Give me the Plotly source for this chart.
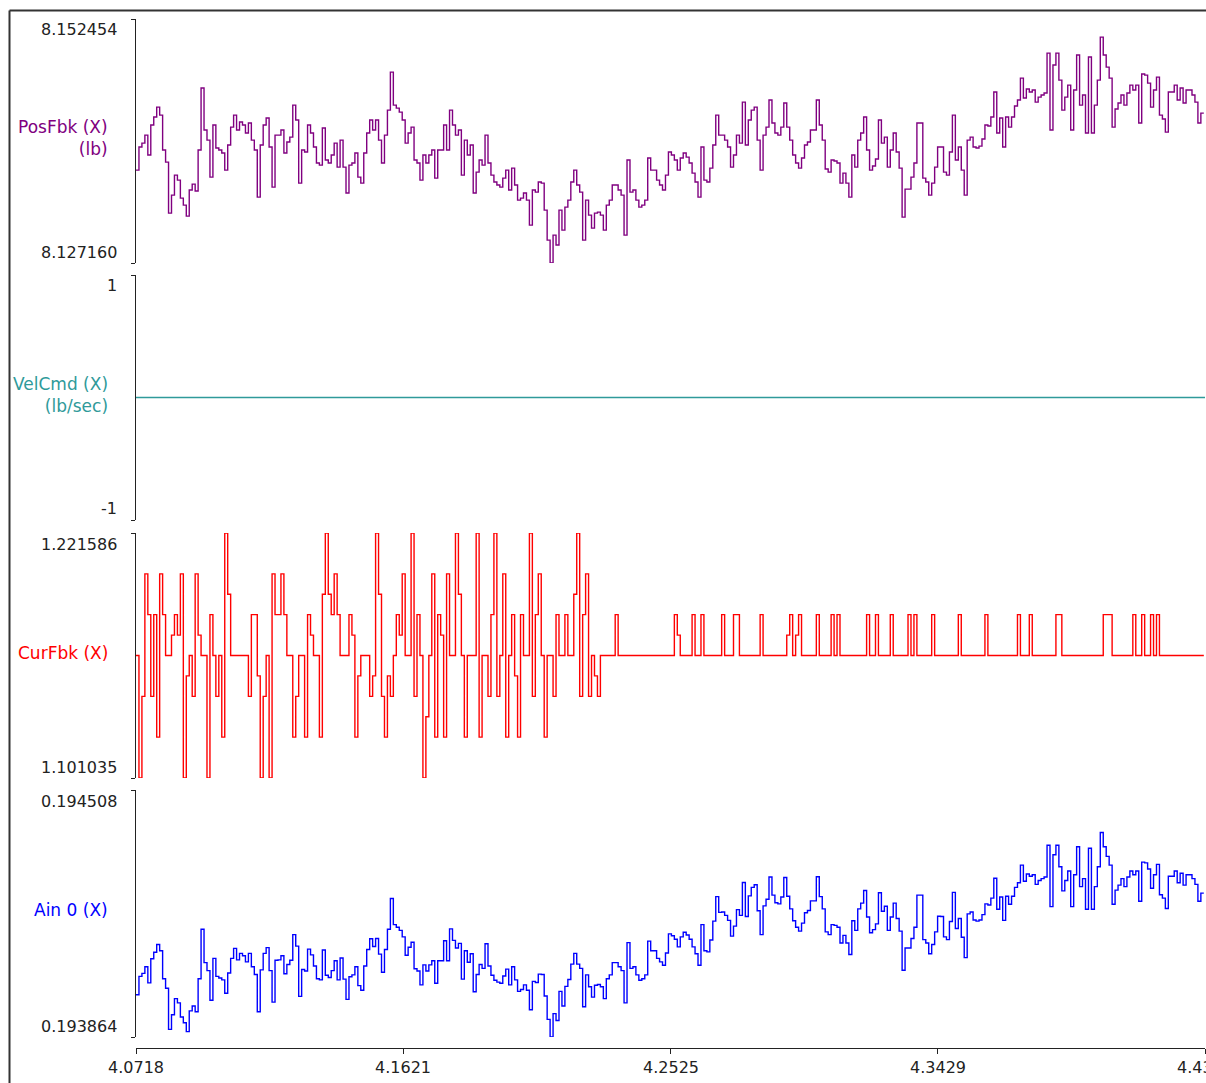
import plotly.graph_objects as go

# ---------------- data ----------------
t_start = 4.0718
sample_period = 0.001
x_range = [4.0718, 4.4332]
x_ticks = [4.0718, 4.1621, 4.2525, 4.3429, 4.4332]
x_tick_text = ["4.0718", "4.1621", "4.2525", "4.3429", "4.4332"]

posfbk = [
8.13679, 8.13918, 8.13959, 8.14042, 8.13835, 8.14146, 8.14229, 8.14332, 8.14249, 8.13887,
8.13762, 8.13233, 8.13420, 8.13627, 8.13575, 8.13389, 8.13316, 8.13202, 8.13472, 8.13534,
8.13462, 8.13887, 8.14530, 8.14094, 8.13990, 8.13606, 8.14146, 8.13908, 8.13887, 8.13856,
8.13679, 8.13939, 8.14125, 8.14249, 8.14094, 8.14177, 8.14146, 8.14063, 8.14167, 8.13990,
8.13887, 8.13399, 8.13939, 8.14146, 8.14219, 8.13918, 8.13503, 8.14042, 8.14042, 8.14094,
8.13856, 8.13970, 8.14021, 8.14353, 8.14198, 8.13544, 8.13887, 8.13866, 8.14146, 8.14063,
8.13918, 8.13752, 8.13731, 8.14115, 8.13783, 8.13752, 8.13835, 8.13959, 8.13710, 8.13990,
8.13710, 8.13441, 8.13731, 8.13752, 8.13856, 8.13606, 8.13544, 8.13856, 8.14063, 8.14198,
8.14094, 8.14198, 8.13990, 8.13752, 8.14042, 8.14301, 8.14695, 8.14353, 8.14322, 8.14280,
8.14198, 8.13959, 8.14063, 8.14125, 8.13783, 8.13752, 8.13575, 8.13835, 8.13752, 8.13835,
8.13887, 8.13596, 8.13887, 8.13887, 8.14146, 8.13887, 8.14301, 8.14146, 8.14042, 8.14094,
8.13627, 8.13990, 8.13835, 8.13939, 8.13441, 8.13658, 8.13783, 8.13731, 8.14042, 8.13752,
8.13627, 8.13555, 8.13524, 8.13503, 8.13596, 8.13679, 8.13472, 8.13700, 8.13524, 8.13368,
8.13389, 8.13441, 8.13368, 8.13109, 8.13472, 8.13451, 8.13555, 8.13544, 8.13264, 8.12953,
8.12716, 8.13005, 8.12902, 8.13264, 8.13057, 8.13295, 8.13368, 8.13555, 8.13679, 8.13524,
8.13451, 8.12953, 8.13368, 8.13212, 8.13078, 8.13233, 8.13243, 8.13212, 8.13057, 8.13316,
8.13368, 8.13524, 8.13524, 8.13472, 8.13420, 8.13005, 8.13783, 8.13451, 8.13472, 8.13368,
8.13295, 8.13316, 8.13368, 8.13804, 8.13679, 8.13679, 8.13575, 8.13524, 8.13472, 8.13627,
8.13866, 8.13835, 8.13783, 8.13679, 8.13804, 8.13856, 8.13814, 8.13752, 8.13648, 8.13555,
8.13399, 8.13918, 8.13575, 8.13555, 8.13700, 8.13939, 8.14249, 8.14042, 8.14042, 8.13990,
8.13918, 8.13710, 8.13835, 8.14042, 8.13959, 8.14384, 8.13939, 8.14198, 8.14301, 8.14332,
8.13990, 8.13679, 8.14042, 8.14125, 8.14405, 8.14167, 8.14063, 8.14042, 8.14125, 8.14374,
8.14125, 8.13990, 8.13835, 8.13752, 8.13700, 8.13804, 8.13939, 8.13970, 8.14094, 8.14094,
8.14405, 8.14146, 8.13990, 8.13690, 8.13658, 8.13783, 8.13773, 8.13752, 8.13544, 8.13648,
8.13544, 8.13399, 8.13835, 8.13710, 8.13990, 8.14063, 8.14229, 8.13887, 8.13679, 8.13721,
8.13794, 8.14198, 8.13959, 8.14021, 8.13710, 8.13887, 8.14063, 8.13866, 8.13700, 8.13192,
8.13482, 8.13482, 8.13606, 8.13752, 8.14167, 8.14167, 8.13596, 8.13555, 8.13420, 8.13544,
8.13710, 8.13918, 8.13918, 8.13658, 8.13627, 8.13866, 8.14249, 8.13783, 8.13918, 8.13679,
8.13420, 8.13990, 8.14021, 8.13918, 8.13908, 8.13928, 8.14001, 8.14146, 8.14136, 8.14229,
8.14488, 8.14063, 8.14219, 8.13918, 8.14229, 8.14125, 8.14229, 8.14343, 8.14405, 8.14633,
8.14426, 8.14519, 8.14488, 8.14509, 8.14384, 8.14436, 8.14457, 8.14478, 8.14892, 8.14094,
8.14768, 8.14892, 8.14612, 8.14301, 8.14436, 8.14560, 8.14094, 8.14509, 8.14872, 8.14353,
8.14457, 8.14063, 8.14851, 8.14063, 8.14353, 8.14612, 8.15058, 8.14872, 8.14747, 8.14633,
8.14125, 8.14312, 8.14374, 8.14457, 8.14353, 8.14478, 8.14560, 8.14509, 8.14560, 8.14167,
8.14675, 8.14664, 8.14581, 8.14332, 8.14509, 8.14643, 8.14249, 8.14208, 8.14073, 8.14488,
8.14488, 8.14560, 8.14405, 8.14530, 8.14374, 8.14509, 8.14509, 8.14457, 8.14384, 8.14167,
8.14270, 8.14270,
]

velcmd_times = [4.0718, 4.4332]
velcmd = [0.0, 0.0]

curfbk = [
1.161311, 1.101035, 1.141219, 1.201494, 1.181402, 1.141219, 1.181402, 1.121127, 1.201494, 1.181402,
1.161311, 1.161311, 1.171357, 1.181402, 1.171357, 1.201494, 1.101035, 1.151265, 1.161311, 1.141219,
1.201494, 1.171357, 1.161311, 1.161311, 1.101035, 1.181402, 1.161311, 1.141219, 1.161311, 1.121127,
1.221586, 1.191448, 1.161311, 1.161311, 1.161311, 1.161311, 1.161311, 1.161311, 1.141219, 1.181402,
1.181402, 1.151265, 1.101035, 1.141219, 1.161311, 1.101035, 1.201494, 1.181402, 1.181402, 1.201494,
1.181402, 1.161311, 1.161311, 1.121127, 1.141219, 1.161311, 1.161311, 1.121127, 1.181402, 1.171357,
1.161311, 1.161311, 1.121127, 1.191448, 1.221586, 1.191448, 1.181402, 1.201494, 1.181402, 1.161311,
1.161311, 1.161311, 1.181402, 1.171357, 1.121127, 1.151265, 1.161311, 1.161311, 1.161311, 1.141219,
1.151265, 1.221586, 1.191448, 1.141219, 1.121127, 1.151265, 1.141219, 1.161311, 1.181402, 1.171357,
1.201494, 1.161311, 1.161311, 1.221586, 1.141219, 1.181402, 1.161311, 1.101035, 1.131173, 1.161311,
1.201494, 1.121127, 1.181402, 1.171357, 1.121127, 1.201494, 1.161311, 1.161311, 1.221586, 1.191448,
1.161311, 1.121127, 1.161311, 1.161311, 1.161311, 1.221586, 1.121127, 1.161311, 1.161311, 1.141219,
1.181402, 1.221586, 1.141219, 1.161311, 1.201494, 1.121127, 1.161311, 1.181402, 1.151265, 1.121127,
1.181402, 1.161311, 1.161311, 1.221586, 1.141219, 1.181402, 1.201494, 1.161311, 1.121127, 1.161311,
1.161311, 1.141219, 1.181402, 1.161311, 1.161311, 1.181402, 1.161311, 1.161311, 1.191448, 1.221586,
1.141219, 1.181402, 1.201494, 1.141219, 1.161311, 1.151265, 1.141219, 1.161311, 1.161311, 1.161311,
1.161311, 1.161311, 1.181402, 1.161311, 1.161311, 1.161311, 1.161311, 1.161311, 1.161311, 1.161311,
1.161311, 1.161311, 1.161311, 1.161311, 1.161311, 1.161311, 1.161311, 1.161311, 1.161311, 1.161311,
1.161311, 1.161311, 1.181402, 1.171357, 1.161311, 1.161311, 1.161311, 1.161311, 1.181402, 1.161311,
1.161311, 1.181402, 1.161311, 1.161311, 1.161311, 1.161311, 1.161311, 1.161311, 1.181402, 1.161311,
1.161311, 1.161311, 1.181402, 1.181402, 1.161311, 1.161311, 1.161311, 1.161311, 1.161311, 1.161311,
1.161311, 1.181402, 1.161311, 1.161311, 1.161311, 1.161311, 1.161311, 1.161311, 1.161311, 1.161311,
1.171357, 1.181402, 1.161311, 1.171357, 1.181402, 1.161311, 1.161311, 1.161311, 1.161311, 1.161311,
1.181402, 1.161311, 1.161311, 1.161311, 1.161311, 1.181402, 1.161311, 1.181402, 1.161311, 1.161311,
1.161311, 1.161311, 1.161311, 1.161311, 1.161311, 1.161311, 1.161311, 1.181402, 1.161311, 1.161311,
1.181402, 1.161311, 1.161311, 1.161311, 1.161311, 1.181402, 1.161311, 1.161311, 1.161311, 1.161311,
1.161311, 1.181402, 1.161311, 1.181402, 1.161311, 1.161311, 1.161311, 1.161311, 1.161311, 1.181402,
1.161311, 1.161311, 1.161311, 1.161311, 1.161311, 1.161311, 1.161311, 1.161311, 1.181402, 1.161311,
1.161311, 1.161311, 1.161311, 1.161311, 1.161311, 1.161311, 1.161311, 1.181402, 1.161311, 1.161311,
1.161311, 1.161311, 1.161311, 1.161311, 1.161311, 1.161311, 1.161311, 1.161311, 1.181402, 1.161311,
1.161311, 1.161311, 1.181402, 1.161311, 1.161311, 1.161311, 1.161311, 1.161311, 1.161311, 1.161311,
1.161311, 1.181402, 1.181402, 1.161311, 1.161311, 1.161311, 1.161311, 1.161311, 1.161311, 1.161311,
1.161311, 1.161311, 1.161311, 1.161311, 1.161311, 1.161311, 1.161311, 1.181402, 1.181402, 1.181402,
1.161311, 1.161311, 1.161311, 1.161311, 1.161311, 1.161311, 1.161311, 1.181402, 1.161311, 1.161311,
1.181402, 1.161311, 1.161311, 1.181402, 1.161311, 1.181402, 1.161311, 1.161311, 1.161311, 1.161311,
1.161311, 1.161311, 1.161311, 1.161311, 1.161311, 1.161311, 1.161311, 1.161311, 1.161311, 1.161311,
1.161311, 1.161311,
]

ain0 = [
0.193974, 0.194022, 0.194030, 0.194047, 0.194005, 0.194068, 0.194085, 0.194105, 0.194089, 0.194016,
0.193991, 0.193884, 0.193922, 0.193964, 0.193953, 0.193916, 0.193901, 0.193878, 0.193932, 0.193945,
0.193930, 0.194016, 0.194145, 0.194058, 0.194037, 0.193960, 0.194069, 0.194022, 0.194018, 0.194013,
0.193978, 0.194031, 0.194069, 0.194095, 0.194065, 0.194082, 0.194076, 0.194060, 0.194082, 0.194047,
0.194027, 0.193930, 0.194039, 0.194082, 0.194097, 0.194037, 0.193955, 0.194064, 0.194065, 0.194076,
0.194029, 0.194053, 0.194064, 0.194131, 0.194101, 0.193970, 0.194040, 0.194036, 0.194093, 0.194078,
0.194049, 0.194016, 0.194013, 0.194091, 0.194025, 0.194019, 0.194037, 0.194063, 0.194013, 0.194070,
0.194015, 0.193962, 0.194021, 0.194026, 0.194047, 0.193998, 0.193986, 0.194049, 0.194092, 0.194120,
0.194100, 0.194121, 0.194080, 0.194033, 0.194092, 0.194145, 0.194225, 0.194157, 0.194150, 0.194142,
0.194125, 0.194077, 0.194098, 0.194111, 0.194042, 0.194036, 0.194000, 0.194052, 0.194036, 0.194052,
0.194063, 0.194004, 0.194063, 0.194063, 0.194115, 0.194063, 0.194146, 0.194116, 0.194096, 0.194108,
0.194015, 0.194089, 0.194059, 0.194081, 0.193982, 0.194027, 0.194053, 0.194043, 0.194107, 0.194049,
0.194025, 0.194012, 0.194007, 0.194004, 0.194023, 0.194041, 0.194000, 0.194047, 0.194013, 0.193983,
0.193988, 0.194000, 0.193986, 0.193935, 0.194009, 0.194006, 0.194028, 0.194027, 0.193971, 0.193910,
0.193864, 0.193925, 0.193907, 0.193983, 0.193945, 0.193996, 0.194014, 0.194054, 0.194082, 0.194054,
0.194043, 0.193943, 0.194026, 0.193995, 0.193968, 0.193999, 0.194001, 0.193995, 0.193964, 0.194016,
0.194026, 0.194058, 0.194058, 0.194047, 0.194037, 0.193953, 0.194110, 0.194043, 0.194047, 0.194026,
0.194012, 0.194016, 0.194026, 0.194114, 0.194089, 0.194089, 0.194069, 0.194060, 0.194051, 0.194083,
0.194133, 0.194128, 0.194119, 0.194099, 0.194125, 0.194137, 0.194130, 0.194119, 0.194099, 0.194081,
0.194051, 0.194157, 0.194089, 0.194086, 0.194117, 0.194166, 0.194230, 0.194189, 0.194190, 0.194181,
0.194168, 0.194127, 0.194153, 0.194196, 0.194181, 0.194267, 0.194178, 0.194232, 0.194254, 0.194261,
0.194193, 0.194131, 0.194206, 0.194223, 0.194281, 0.194234, 0.194214, 0.194211, 0.194229, 0.194280,
0.194231, 0.194198, 0.194167, 0.194150, 0.194140, 0.194161, 0.194188, 0.194194, 0.194219, 0.194219,
0.194282, 0.194230, 0.194198, 0.194138, 0.194131, 0.194157, 0.194155, 0.194150, 0.194109, 0.194129,
0.194109, 0.194079, 0.194167, 0.194142, 0.194198, 0.194213, 0.194246, 0.194177, 0.194136, 0.194144,
0.194159, 0.194240, 0.194192, 0.194205, 0.194142, 0.194177, 0.194213, 0.194173, 0.194140, 0.194038,
0.194096, 0.194096, 0.194121, 0.194150, 0.194234, 0.194234, 0.194118, 0.194109, 0.194081, 0.194105,
0.194138, 0.194179, 0.194178, 0.194125, 0.194118, 0.194165, 0.194241, 0.194147, 0.194173, 0.194124,
0.194071, 0.194185, 0.194190, 0.194169, 0.194166, 0.194169, 0.194183, 0.194211, 0.194208, 0.194226,
0.194278, 0.194197, 0.194229, 0.194168, 0.194231, 0.194210, 0.194231, 0.194254, 0.194266, 0.194312,
0.194270, 0.194289, 0.194283, 0.194287, 0.194262, 0.194272, 0.194277, 0.194281, 0.194364, 0.194204,
0.194339, 0.194364, 0.194308, 0.194245, 0.194272, 0.194297, 0.194204, 0.194287, 0.194360, 0.194256,
0.194277, 0.194197, 0.194356, 0.194197, 0.194256, 0.194308, 0.194397, 0.194360, 0.194335, 0.194312,
0.194210, 0.194247, 0.194260, 0.194277, 0.194256, 0.194281, 0.194297, 0.194287, 0.194297, 0.194218,
0.194320, 0.194318, 0.194302, 0.194252, 0.194287, 0.194314, 0.194235, 0.194226, 0.194199, 0.194283,
0.194283, 0.194297, 0.194266, 0.194291, 0.194260, 0.194287, 0.194287, 0.194277, 0.194262, 0.194218,
0.194239, 0.194239,
]

panel_titles = ["PosFbk (X)<br>(lb)", "VelCmd (X)<br>(lb/sec)", "CurFbk (X)", "Ain 0 (X)"]
panel_ranges = [(8.127160, 8.152454), (-1.0, 1.0), (1.101035, 1.221586), (0.193864, 0.194508)]
panel_range_text = [("8.127160", "8.152454"), ("-1", "1"), ("1.101035", "1.221586"), ("0.193864", "0.194508")]
panel_colors = ["#800080", "#2f9a9a", "#ff0000", "#0000ff"]

# ---------------- layout helpers (pixel positions) ----------------
W, H = 1206, 1083
L, R = 136, 1205
FONT = "DejaVu Sans"
INK = "#222222"


def py(p):
    return 1 - p / H


def pxx(p):
    return (p - L) / (R - L)


panel_px = [(19, 263), (275, 520), (533, 778), (790, 1037)]
title_center_px = [138, 395, 653, 910]
label_inset = 11


def times_for(n):
    return [t_start + i * sample_period for i in range(n)]


series = [
    (times_for(len(posfbk)), posfbk),
    (velcmd_times, velcmd),
    (times_for(len(curfbk)), curfbk),
    (times_for(len(ain0)), ain0),
]

fig = go.Figure()
annotations = []
layout_axes = {}

for k in range(4):
    yname = "y" if k == 0 else f"y{k+1}"
    ykey = "yaxis" if k == 0 else f"yaxis{k+1}"
    xs, ys = series[k]
    fig.add_trace(go.Scatter(
        x=xs, y=ys, mode="lines", xaxis="x", yaxis=yname,
        line=dict(color=panel_colors[k], width=1.4, shape="hv"),
        hoverinfo="skip", showlegend=False,
    ))
    top, bot = panel_px[k]
    lo, hi = panel_ranges[k]
    layout_axes[ykey] = dict(
        domain=[py(bot), py(top)], anchor="x", range=[lo, hi],
        tickvals=[lo, hi], showticklabels=False, ticks="outside", ticklen=4,
        tickcolor=INK, showline=True, linecolor=INK, linewidth=1,
        showgrid=False, zeroline=False, fixedrange=True,
    )
    lo_t, hi_t = panel_range_text[k]
    annotations.append(dict(
        text=hi_t, xref="paper", yref="paper", x=pxx(119), y=py(top + label_inset),
        xanchor="right", yanchor="middle", showarrow=False,
        font=dict(family=FONT, size=16, color=INK)))
    annotations.append(dict(
        text=lo_t, xref="paper", yref="paper", x=pxx(119), y=py(bot - label_inset),
        xanchor="right", yanchor="middle", showarrow=False,
        font=dict(family=FONT, size=16, color=INK)))
    annotations.append(dict(
        text=panel_titles[k], xref="paper", yref="paper", x=pxx(110),
        y=py(title_center_px[k]), xanchor="right", yanchor="middle", align="right",
        showarrow=False, font=dict(family=FONT, size=17, color=panel_colors[k])))

# x tick labels drawn as annotations so the last one can run off the edge
for tv, tt in zip(x_ticks, x_tick_text):
    annotations.append(dict(
        text=tt, xref="paper", yref="paper",
        x=(tv - x_range[0]) / (x_range[1] - x_range[0]), y=py(1067),
        xanchor="center", yanchor="middle", showarrow=False,
        font=dict(family=FONT, size=16, color=INK)))

shapes = [
    dict(type="line", xref="paper", yref="paper", x0=pxx(9.5), x1=pxx(9.5),
         y0=py(10.5), y1=py(1090), line=dict(color="#333333", width=2)),
    dict(type="line", xref="paper", yref="paper", x0=pxx(9.5), x1=pxx(1215),
         y0=py(10.5), y1=py(10.5), line=dict(color="#333333", width=2)),
]

fig.update_layout(
    width=W, height=H,
    margin=dict(l=L, r=W - R, t=0, b=0, pad=0),
    paper_bgcolor="white", plot_bgcolor="white",
    xaxis=dict(
        domain=[0, 1], anchor="free", position=py(1048), range=x_range,
        tickvals=x_ticks, showticklabels=False, ticks="outside", ticklen=5,
        tickcolor=INK, showline=True, linecolor=INK, linewidth=1,
        showgrid=False, zeroline=False, fixedrange=True,
    ),
    annotations=annotations, shapes=shapes,
    showlegend=False,
    **layout_axes,
)

fig.write_html(
    "out.html",
    config={"displayModeBar": False},
    post_script="document.body.style.margin='0';document.body.style.overflow='hidden';",
)
